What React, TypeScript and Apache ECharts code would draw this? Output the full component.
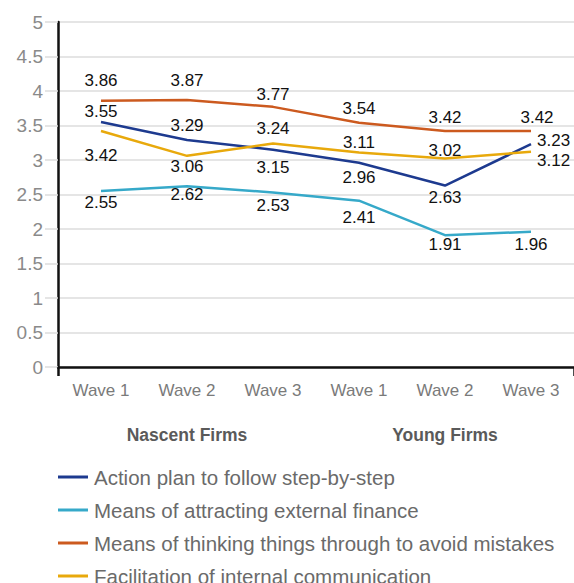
import React, { useEffect, useRef } from "react";
import * as echarts from "echarts";

const categories = ["Wave 1", "Wave 2", "Wave 3", "Wave 1", "Wave 2", "Wave 3"];
const groups = ["Nascent Firms", "Young Firms"];
const yTicks = [0, 0.5, 1, 1.5, 2, 2.5, 3, 3.5, 4, 4.5, 5];

const seriesNames = [
  "Action plan to follow step-by-step",
  "Means of attracting external finance",
  "Means of thinking things through to avoid mistakes",
  "Facilitation of internal communication",
];
const actionPlan = [3.55, 3.29, 3.15, 2.96, 2.63, 3.23];
const externalFinance = [2.55, 2.62, 2.53, 2.41, 1.91, 1.96];
const thinkingThrough = [3.86, 3.87, 3.77, 3.54, 3.42, 3.42];
const internalComm = [3.42, 3.06, 3.24, 3.11, 3.02, 3.12];

const colors = ["#1d3a8f", "#36a9c9", "#cc5a1f", "#e8a90c"];

// where each value label sits relative to its point
type Pos = "top" | "bottom" | "right";
const labelPlacement: Pos[][] = [
  ["top", "top", "bottom", "bottom", "bottom", "right"],
  ["bottom", "bottom", "bottom", "bottom", "bottom", "bottom"],
  ["top", "top", "top", "top", "top", "top"],
  ["bottom", "bottom", "top", "top", "top", "right"],
];
// small nudges so overlapping labels stay readable
const labelShift: number[][][] = [
  [[0, 4], [0, 0], [0, 3], [0, 0], [0, -3], [0, -4]],
  [[0, -3], [0, -6], [0, -1], [0, 2], [0, -5], [0, -2]],
  [[0, -6], [0, -5], [0, 2], [0, 0], [0, 1], [6, 1]],
  [[0, 10], [0, -4], [0, 0], [0, 5], [0, 6], [0, 9]],
];

const FONT = "'Liberation Sans', Arial, Helvetica, sans-serif";
const W = 574;
const H = 600; // taller than the page so the last legend row runs off the bottom

export default function App() {
  const ref = useRef<HTMLDivElement>(null);

  useEffect(() => {
    if (!ref.current) return;
    const chart = echarts.init(ref.current, null, { renderer: "svg" });
    const values = [actionPlan, externalFinance, thinkingThrough, internalComm];

    const series = values.map((vals, si) => ({
      name: seriesNames[si],
      type: "line",
      symbol: "circle",
      symbolSize: 0.1,
      showSymbol: true,
      lineStyle: { color: colors[si], width: 2.5 },
      itemStyle: { color: colors[si] },
      label: { show: true },
      data: vals.map((v, i) => ({
        value: v,
        label: {
          show: true,
          position: labelPlacement[si][i],
          distance: 6,
          offset: labelShift[si][i],
          color: "#111",
          fontSize: 17,
          fontFamily: FONT,
          formatter: (p: any) => Number(p.value).toFixed(2),
        },
      })),
      z: 3,
    }));

    chart.setOption({
      animation: false,
      backgroundColor: "#fff",
      textStyle: { fontFamily: FONT },
      grid: { left: 58, right: 0, top: 22, bottom: H - 367, containLabel: false },
      xAxis: {
        type: "category",
        data: categories,
        boundaryGap: true,
        axisLine: { show: true, lineStyle: { color: "#111", width: 2.5 } },
        axisTick: {
          show: true,
          interval: (i: number) => i === 3,
          length: 9,
          lineStyle: { color: "#111", width: 2.5 },
        },
        axisLabel: { color: "#7a7a7a", fontSize: 17, margin: 15, fontFamily: FONT },
        splitLine: { show: false },
      },
      yAxis: {
        type: "value",
        min: yTicks[0],
        max: yTicks[yTicks.length - 1],
        interval: 0.5,
        axisLine: { show: true, lineStyle: { color: "#111", width: 2.5 } },
        axisTick: { show: true, length: 13, lineStyle: { color: "#dcdcdc", width: 1.5 } },
        axisLabel: { color: "#8a8a8a", fontSize: 19, margin: 15, fontFamily: FONT },
        splitLine: { show: true, lineStyle: { color: "#dcdcdc", width: 1.5 } },
      },
      legend: {
        orient: "vertical",
        left: 53,
        top: 461,
        itemWidth: 30,
        itemHeight: 3,
        itemGap: 11,
        icon: "rect",
        data: seriesNames,
        textStyle: { color: "#6a6a6a", fontSize: 20.5, lineHeight: 22, fontFamily: FONT, padding: [0, 0, 0, 1] },
      },
      graphic: groups.map((g, gi) => ({
        type: "text",
        x: 58 + 86 * (1 + gi * 3) + 43,
        y: 435,
        style: {
          text: g,
          fill: "#5a5a5a",
          fontSize: 17.5,
          fontWeight: "bold",
          fontFamily: FONT,
          textAlign: "center",
          textVerticalAlign: "middle",
        },
      })),
      series,
    });

    return () => chart.dispose();
  }, []);

  return (
    <div
      ref={ref}
      style={{ position: "fixed", left: 0, top: 0, width: W, height: H }}
    />
  );
}
